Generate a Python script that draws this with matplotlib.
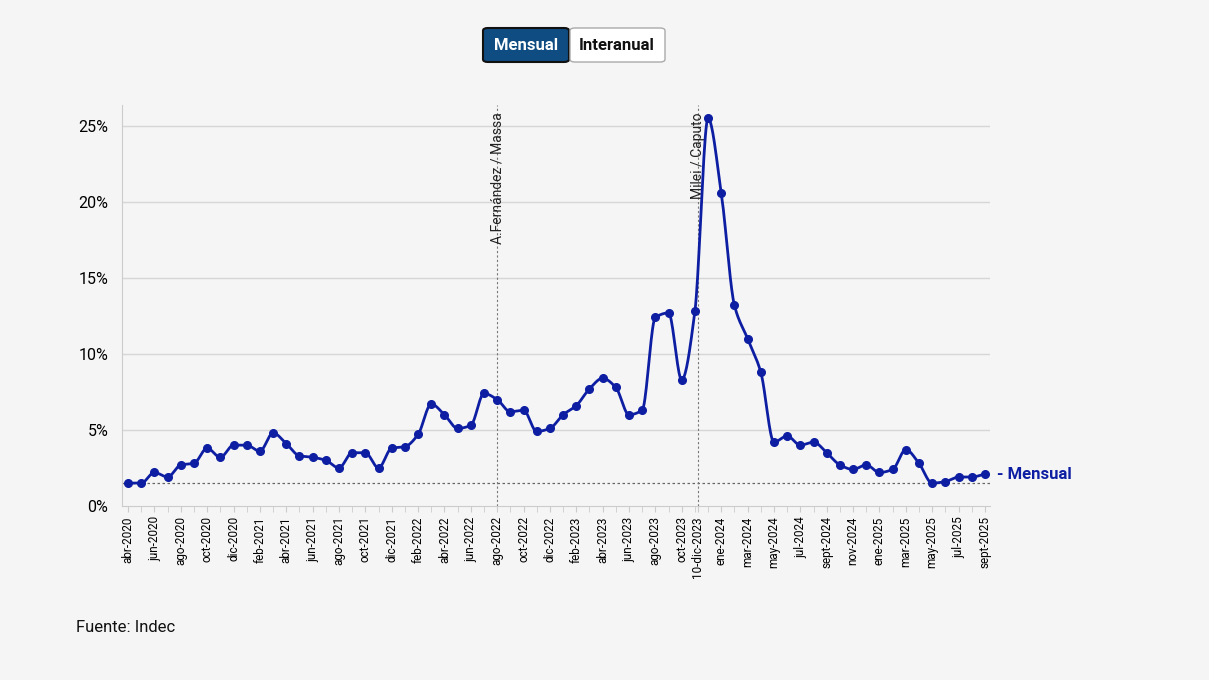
import numpy as np
import matplotlib.pyplot as plt
from matplotlib.patches import FancyBboxPatch

plt.rcParams['font.family'] = ['Roboto', 'DejaVu Sans']

mensual = [1.5, 1.5, 2.2, 1.9, 2.7, 2.8, 3.8, 3.2, 4.0,
           4.0, 3.6, 4.8, 4.1, 3.3, 3.2, 3.0, 2.5, 3.5, 3.5, 2.5, 3.8,
           3.9, 4.7, 6.7, 6.0, 5.1, 5.3, 7.4, 7.0, 6.2, 6.3, 4.9, 5.1,
           6.0, 6.6, 7.7, 8.4, 7.8, 6.0, 6.3, 12.4, 12.7, 8.3, 12.8, 25.5,
           20.6, 13.2, 11.0, 8.8, 4.2, 4.6, 4.0, 4.2, 3.5, 2.7, 2.4, 2.7,
           2.2, 2.4, 3.7, 2.8, 1.5, 1.6, 1.9, 1.9, 2.1]
meses = ['ene', 'feb', 'mar', 'abr', 'may', 'jun', 'jul', 'ago', 'sept', 'oct', 'nov', 'dic']
etiquetas = [f"{meses[(3 + i) % 12]}-{2020 + (3 + i) // 12}" for i in range(len(mensual))]
eventos = [(28.0, 'A.Fernández / Massa'), (43.2, 'Milei / Caputo')]
linea_ref = 1.5

x = np.arange(len(mensual))
y = np.array(mensual, dtype=float)

# monotone cubic for the drawn curve (like d3 curveMonotoneX)
d = np.diff(y)
m = np.zeros_like(y)
m[0], m[-1] = d[0], d[-1]
for i in range(1, len(y) - 1):
    if d[i - 1] * d[i] > 0:
        m[i] = 2 / (1 / d[i - 1] + 1 / d[i])
xs, ys = [], []
for i in range(len(y) - 1):
    t = np.linspace(0, 1, 20)
    h00 = 2*t**3 - 3*t**2 + 1; h10 = t**3 - 2*t**2 + t
    h01 = -2*t**3 + 3*t**2; h11 = t**3 - t**2
    xs.extend(x[i] + t)
    ys.extend(h00*y[i] + h10*m[i] + h01*y[i+1] + h11*m[i+1])

bg = '#f5f5f5'
azul = '#0d1ea3'
fig = plt.figure(figsize=(12.09, 6.8), dpi=100, facecolor=bg)
ax = fig.add_axes([0.101, 0.256, 0.718, 0.590], facecolor=bg)

ax.set_ylim(0, 26.4)
ax.set_xlim(-0.45, 65.4)
for v in [5, 10, 15, 20, 25]:
    ax.axhline(v, color='#d6d6d6', lw=1, zorder=0)
ax.axhline(linea_ref, color='#666666', lw=0.9, ls=(0, (2, 2)), zorder=1)
for pos, nombre in eventos:
    ax.axvline(pos, color='#777777', lw=0.8, ls=(0, (2, 2)), zorder=1)
    ax.text(pos, 25.9, nombre, rotation=90, ha='center', va='top', fontsize=10, color='#222222')

ax.plot(xs, ys, color=azul, lw=2, zorder=3)
ax.plot(x, y, 'o', color=azul, ms=5.5, zorder=4)
ax.text(65.9, y[-1], '- Mensual', color=azul, fontsize=12, fontweight='bold', va='center', clip_on=False)

ticks = [i for i in range(0, 43, 2)] + [43.2] + [i for i in range(45, 66, 2)]
labels = [etiquetas[i] for i in range(0, 43, 2)] + ['10-dic-2023'] + [etiquetas[i] for i in range(45, 66, 2)]
ax.set_xticks(ticks)
ax.set_xticklabels(labels, rotation=90, fontsize=8.5)
ax.set_xticks(x, minor=True)
ax.tick_params(axis='x', which='both', length=4, color='#cccccc')
ax.set_yticks([0, 5, 10, 15, 20, 25])
ax.set_yticklabels([f"{v}%" for v in [0, 5, 10, 15, 20, 25]], fontsize=11.5)
ax.tick_params(axis='y', length=0, pad=10)
for s in ['top', 'right']:
    ax.spines[s].set_visible(False)
ax.spines['left'].set_color('#cccccc')
ax.spines['bottom'].set_color('#cccccc')

# buttons
fig.patches.append(FancyBboxPatch((483/1209, 1-62/680), 86/1209, 34/680, boxstyle='round,pad=0,rounding_size=0.004',
                                  transform=fig.transFigure, facecolor='#0f4c81', edgecolor='#111111', lw=1.5))
fig.patches.append(FancyBboxPatch((570/1209, 1-62/680), 95/1209, 34/680, boxstyle='round,pad=0,rounding_size=0.004',
                                  transform=fig.transFigure, facecolor='white', edgecolor='#aaaaaa', lw=1))
fig.text(526/1209, 1-45/680, 'Mensual', color='white', fontsize=12, fontweight='bold', ha='center', va='center')
fig.text(617/1209, 1-45/680, 'Interanual', color='#111111', fontsize=12, fontweight='bold', ha='center', va='center')
fig.text(76/1209, 1-628/680, 'Fuente: Indec', fontsize=12, color='#111111', va='center')

fig.savefig('out.png', dpi=100, facecolor=bg)
